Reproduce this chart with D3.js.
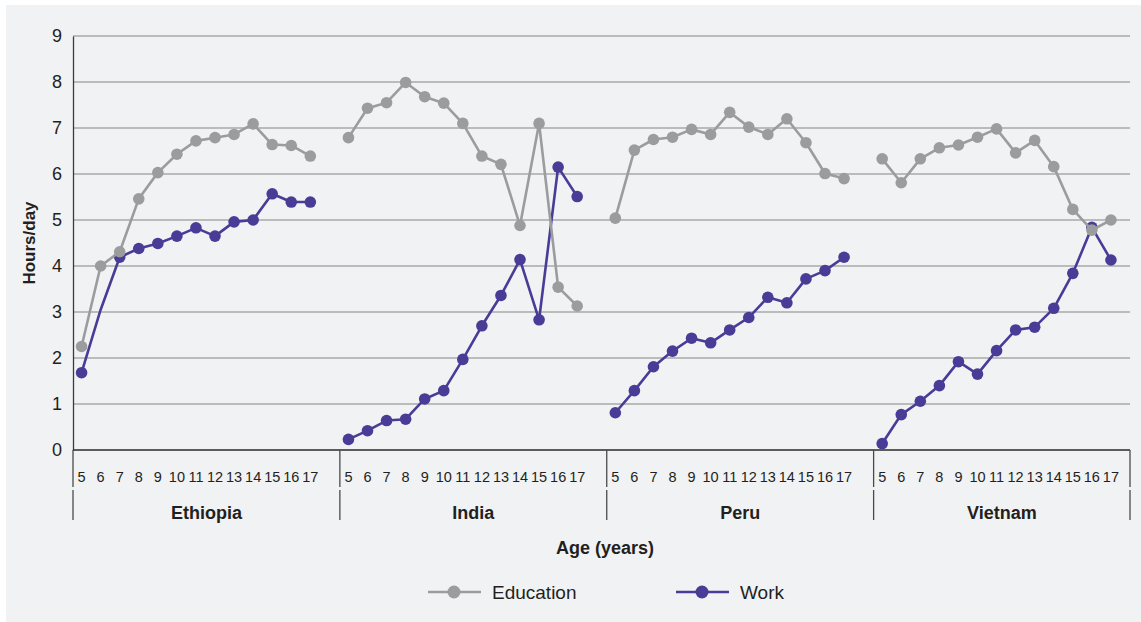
<!DOCTYPE html>
<html>
<head>
<meta charset="utf-8">
<script src="https://cdn.jsdelivr.net/npm/d3@7"></script>
<style>
  html, body { margin: 0; padding: 0; background: #ffffff; }
  svg { display: block; }
  text { font-family: "Liberation Sans", Arial, sans-serif; fill: #231f20; }
</style>
</head>
<body>
<svg id="chart" width="1141" height="622"></svg>
<script>
// ---------- data ----------
const countries = ["Ethiopia", "India", "Peru", "Vietnam"];
const ages = [5, 6, 7, 8, 9, 10, 11, 12, 13, 14, 15, 16, 17];
const yTicks = [0, 1, 2, 3, 4, 5, 6, 7, 8, 9];
const seriesNames = ["Education", "Work"];

const educationEthiopia = [2.25, 4.00, 4.31, 5.46, 6.03, 6.43, 6.72, 6.79, 6.86, 7.09, 6.64, 6.62, 6.39];
const educationIndia    = [6.79, 7.43, 7.55, 7.99, 7.68, 7.54, 7.10, 6.39, 6.21, 4.88, 7.10, 3.54, 3.13];
const educationPeru     = [5.04, 6.52, 6.75, 6.80, 6.97, 6.86, 7.34, 7.02, 6.86, 7.20, 6.68, 6.01, 5.90];
const educationVietnam  = [6.33, 5.81, 6.33, 6.57, 6.63, 6.80, 6.98, 6.46, 6.73, 6.16, 5.23, 4.78, 5.00];

const workEthiopia = [1.68, 3.05, 4.19, 4.38, 4.49, 4.65, 4.83, 4.65, 4.96, 5.00, 5.57, 5.39, 5.39];
const workIndia    = [0.23, 0.42, 0.64, 0.67, 1.11, 1.29, 1.97, 2.70, 3.36, 4.14, 2.83, 6.15, 5.51];
const workPeru     = [0.81, 1.29, 1.81, 2.15, 2.43, 2.33, 2.61, 2.88, 3.32, 3.20, 3.72, 3.90, 4.19];
const workVietnam  = [0.14, 0.77, 1.06, 1.40, 1.92, 1.65, 2.16, 2.61, 2.67, 3.08, 3.84, 4.84, 4.13];

// points drawn without a marker in the original
const hiddenMarkers = [["Work", "Ethiopia", 6]];

const education = [educationEthiopia, educationIndia, educationPeru, educationVietnam];
const work = [workEthiopia, workIndia, workPeru, workVietnam];

// ---------- layout ----------
const svg = d3.select("#chart");
const colors = { Education: "#9b9c9e", Work: "#483c97" };
const slotsPerGroup = ages.length + 1; // one blank slot between countries

svg.append("rect").attr("x", 6).attr("y", 5).attr("width", 1135).attr("height", 617).attr("fill", "#f1f2f4");

const x = d3.scaleLinear().domain([-0.45, 55]).range([73, 1130]);
const y = d3.scaleLinear().domain([0, 9]).range([450, 36]);
const gx = (ci, ai) => x(ci * slotsPerGroup + ai);

// gridlines
svg.append("g").selectAll("line").data(yTicks.filter(d => d > 0)).join("line")
  .attr("x1", x.range()[0]).attr("x2", x.range()[1])
  .attr("y1", d => y(d)).attr("y2", d => y(d))
  .attr("stroke", "#a7a8aa").attr("stroke-width", 1.6);

// y axis
const yAxis = svg.append("g").attr("transform", `translate(${x.range()[0]},0)`)
  .call(d3.axisLeft(y).tickValues(yTicks).tickSize(0).tickPadding(11));
yAxis.select(".domain").attr("stroke", "#3a3a3a").attr("stroke-width", 1.3);
yAxis.selectAll("text").attr("font-size", 18).attr("fill", "#231f20")
  .style("font-family", '"Liberation Sans", Arial, sans-serif');

// x baseline
svg.append("line").attr("x1", x.range()[0]).attr("x2", x.range()[1])
  .attr("y1", y(0)).attr("y2", y(0)).attr("stroke", "#2a2a2a").attr("stroke-width", 1.5);

// group dividers
const dividerIdx = d3.range(countries.length).map(i => i * slotsPerGroup - 0.45).concat([55]);
dividerIdx.forEach(d => {
  svg.append("line").attr("x1", x(d)).attr("x2", x(d)).attr("y1", y(0)).attr("y2", 487)
    .attr("stroke", "#4a4a4a").attr("stroke-width", 1.3);
  svg.append("line").attr("x1", x(d)).attr("x2", x(d)).attr("y1", 490).attr("y2", 520)
    .attr("stroke", "#4a4a4a").attr("stroke-width", 1.3);
});

// age tick labels
countries.forEach((c, ci) => {
  svg.append("g").selectAll("text").data(ages).join("text")
    .attr("x", (d, ai) => gx(ci, ai)).attr("y", 477)
    .attr("text-anchor", "middle").attr("dominant-baseline", "central")
    .attr("font-size", 14.5).text(d => d);
  svg.append("text")
    .attr("x", (x(ci * slotsPerGroup - 0.45) + x(ci === countries.length - 1 ? 55 : (ci + 1) * slotsPerGroup - 0.45)) / 2)
    .attr("y", 513).attr("text-anchor", "middle").attr("dominant-baseline", "central")
    .attr("font-size", 18).attr("font-weight", "bold").text(c);
});

// axis titles
svg.append("text").attr("x", 605).attr("y", 548).attr("text-anchor", "middle")
  .attr("dominant-baseline", "central").attr("font-size", 18).attr("font-weight", "bold").text("Age (years)");
svg.append("text").attr("transform", `translate(29,${(y(0) + y(9)) / 2}) rotate(-90)`)
  .attr("text-anchor", "middle").attr("dominant-baseline", "central")
  .attr("font-size", 17).attr("font-weight", "bold").text("Hours/day");

// series
const line = d3.line().x(d => d.x).y(d => d.y);
const drawSeries = (name, arrs) => {
  const g = svg.append("g");
  arrs.forEach((vals, ci) => {
    const pts = vals.map((v, ai) => ({ x: gx(ci, ai), y: y(v), age: ages[ai] }));
    g.append("path").attr("d", line(pts)).attr("fill", "none")
      .attr("stroke", colors[name]).attr("stroke-width", 2.6).attr("stroke-linejoin", "round");
    const shown = pts.filter(p => !hiddenMarkers.some(h => h[0] === name && h[1] === countries[ci] && h[2] === p.age));
    g.selectAll(null).data(shown).join("circle")
      .attr("cx", d => d.x).attr("cy", d => d.y).attr("r", 5.8).attr("fill", colors[name]);
  });
};
drawSeries("Work", work);
drawSeries("Education", education);

// legend
const legendItems = [
  { name: "Education", x0: 428 },
  { name: "Work", x0: 676 }
];
legendItems.forEach(it => {
  const ly = 592;
  svg.append("line").attr("x1", it.x0).attr("x2", it.x0 + 53).attr("y1", ly).attr("y2", ly)
    .attr("stroke", colors[it.name]).attr("stroke-width", 2.6);
  svg.append("circle").attr("cx", it.x0 + 26).attr("cy", ly).attr("r", 6.5).attr("fill", colors[it.name]);
  svg.append("text").attr("x", it.x0 + 64).attr("y", ly).attr("dominant-baseline", "central")
    .attr("font-size", 19).text(it.name);
});
</script>
</body>
</html>
